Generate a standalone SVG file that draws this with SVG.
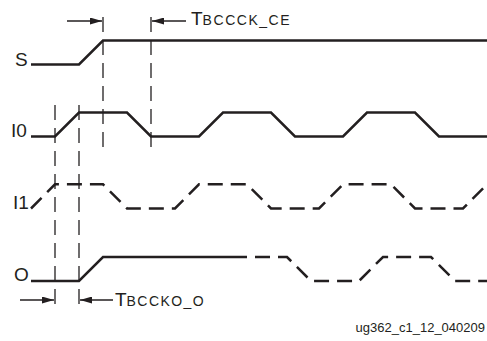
<svg xmlns="http://www.w3.org/2000/svg" width="487" height="341" viewBox="0 0 487 341">
<style>
.sig{fill:none;stroke:#231f20;stroke-width:2.5;stroke-linejoin:miter}
.dsig{fill:none;stroke:#231f20;stroke-width:2.5;stroke-dasharray:15 8}
.vd{fill:none;stroke:#231f20;stroke-width:1.3;stroke-dasharray:15 8}
.ar{fill:none;stroke:#231f20;stroke-width:1.3}
.lbl{font-family:"Liberation Sans",Arial,sans-serif;font-size:19px;fill:#231f20}
.tl{font-family:"Liberation Sans",Arial,sans-serif;fill:#231f20}
.cap{font-family:"Liberation Sans",Arial,sans-serif;font-size:13px;fill:#231f20}
</style>
<defs>
<marker id="ah" viewBox="0 0 12 7" refX="12" refY="3.5" markerWidth="12" markerHeight="7" markerUnits="userSpaceOnUse" orient="auto">
<path d="M0,0 L12,3.5 L0,7 Z" fill="#231f20"/>
</marker>
</defs>
<g id="signal-S">
<text class="lbl" x="15" y="65.5">S</text>
<path class="sig" d="M31,64.5 H79 L103,40.5 H487"/>
</g>
<g id="signal-I0">
<text class="lbl" x="11" y="136.7">I0</text>
<path class="sig" d="M31,136.5 H55 L79,112.5 H127 L151,136.5 H199 L223,112.5 H271 L295,136.5 H343 L367,112.5 H415 L439,136.5 H487"/>
</g>
<g id="signal-I1">
<text class="lbl" x="13" y="208.7">I1</text>
<path class="dsig" d="M31,208.5 L55,184.3 H103 L127,208.5 H175 L199,184.3 H247 L271,208.5 H319 L343,184.3 H391 L415,208.5 H463 L487,184.3"/>
</g>
<g id="signal-O">
<text class="lbl" x="14" y="281">O</text>
<path class="sig" d="M31,281 H79 L103,257 H247"/>
<path class="dsig" d="M255,257 H287 L311,281 H359 L383,257 H431 L455,281 H487"/>
</g>
<g id="connectors">
<line class="vd" x1="103" y1="17" x2="103" y2="153"/>
<line class="vd" x1="151" y1="17" x2="151" y2="153"/>
<line class="vd" x1="55" y1="105" x2="55" y2="312"/>
<line class="vd" x1="79" y1="105" x2="79" y2="312"/>
<line class="ar" x1="67" y1="21" x2="102" y2="21" marker-end="url(#ah)"/>
<line class="ar" x1="186" y1="21" x2="152" y2="21" marker-end="url(#ah)"/>
<line class="ar" x1="20" y1="300" x2="54" y2="300" marker-end="url(#ah)"/>
<line class="ar" x1="113" y1="300" x2="80" y2="300" marker-end="url(#ah)"/>
</g>
<g id="label-tbccck-ce">
<text class="tl" x="191" y="25"><tspan font-size="19">T</tspan><tspan font-size="14" textLength="87" lengthAdjust="spacing">BCCCK_CE</tspan></text>
</g>
<g id="label-tbccko-o">
<text class="tl" x="115" y="306"><tspan font-size="19">T</tspan><tspan font-size="14" textLength="77" lengthAdjust="spacing">BCCKO_O</tspan></text>
</g>
<text class="cap" x="485" y="332" text-anchor="end">ug362_c1_12_040209</text>
</svg>
